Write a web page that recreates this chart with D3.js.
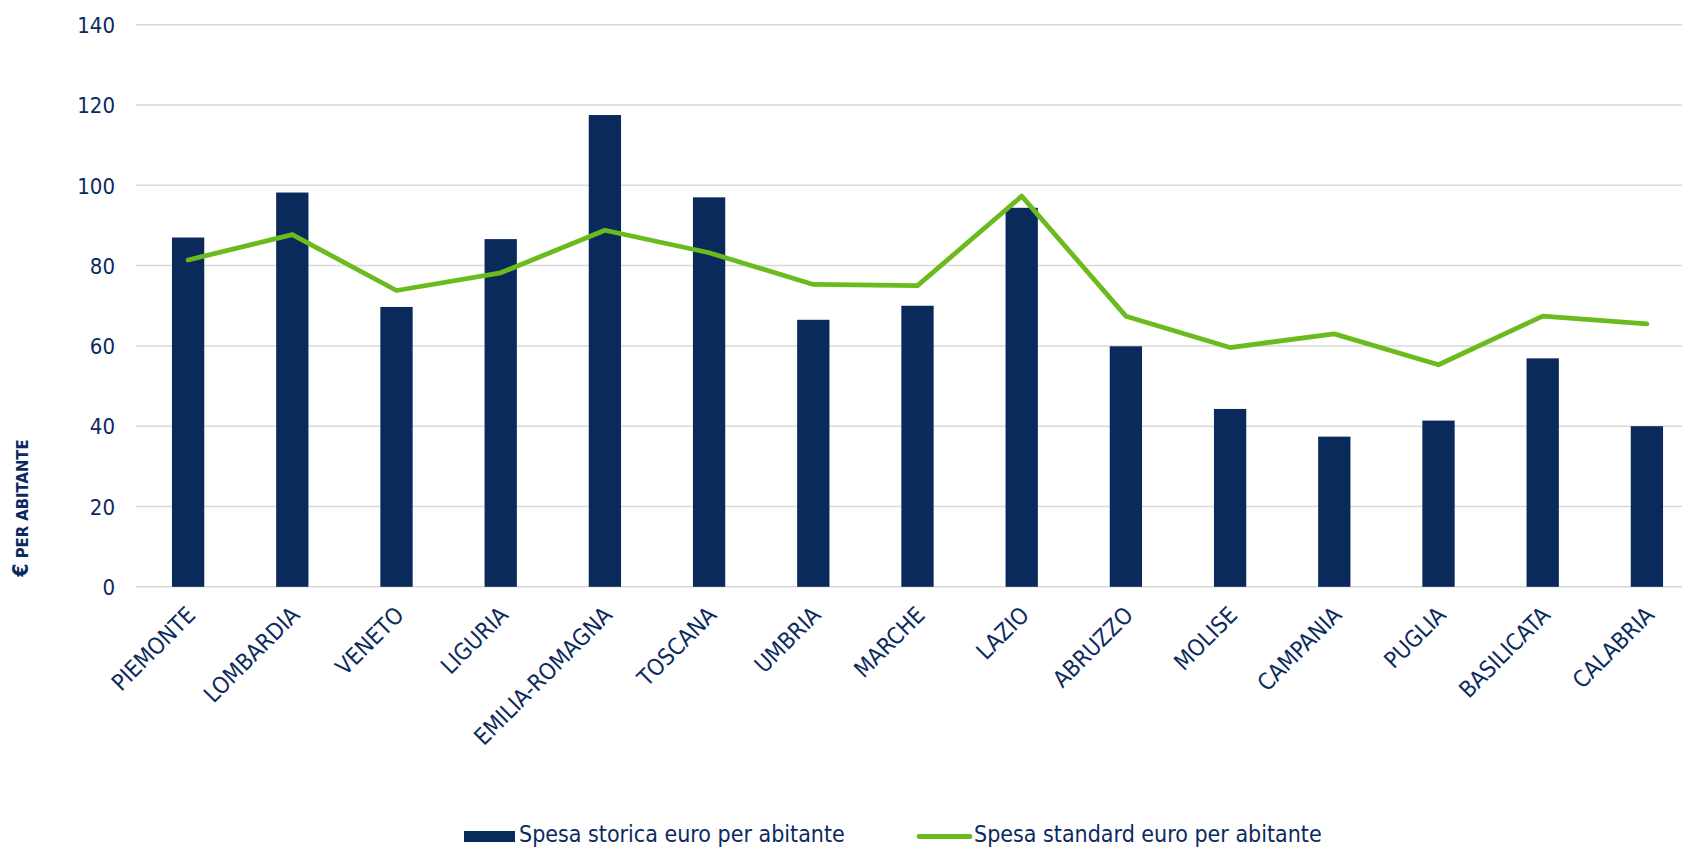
<!DOCTYPE html>
<html><head><meta charset="utf-8">
<script src="https://cdn.jsdelivr.net/npm/d3@7"></script>
<style>
body{margin:0;background:#fff;}
svg text{font-family:"DejaVu Sans Condensed","DejaVu Sans",sans-serif;font-stretch:condensed;fill:#0c2a5e;}
</style></head><body>
<svg id="chart" width="1682" height="849"></svg>
<script>
const categories = ["PIEMONTE","LOMBARDIA","VENETO","LIGURIA","EMILIA-ROMAGNA","TOSCANA","UMBRIA","MARCHE","LAZIO","ABRUZZO","MOLISE","CAMPANIA","PUGLIA","BASILICATA","CALABRIA"];
const spesaStorica = [87.0,98.2,69.7,86.6,117.5,97.0,66.5,70.0,94.4,59.9,44.3,37.4,41.4,56.9,40.0];
const spesaStandard = [81.4,87.7,73.8,78.2,88.8,83.2,75.3,75.0,97.3,67.4,59.6,63.0,55.3,67.4,65.5];
const yTicks = [0,20,40,60,80,100,120,140];
const seriesNames = ["Spesa storica euro per abitante","Spesa standard euro per abitante"];
const yTitle = ["€"," PER ABITANTE"];

(function(){
const navy = "#0a2a5c", green = "#6cbb1e";
const svg = d3.select("#chart");
const mLeft = 136, mRight = 1699, mTop = 24.7, mBottom = 586.8;

const x = d3.scaleBand().domain(categories).range([mLeft, mRight]).paddingInner(0.69).paddingOuter(0.345);
const y = d3.scaleLinear().domain([0,140]).range([mBottom, mTop]);

// gridlines
svg.append("g").selectAll("line").data(yTicks).join("line")
  .attr("x1", mLeft).attr("x2", mRight)
  .attr("y1", d => y(d)).attr("y2", d => y(d))
  .attr("stroke", "#d9d9d9").attr("stroke-width", 1.5);

// y axis labels
const yAxis = d3.axisLeft(y).tickValues(yTicks).tickSize(0).tickPadding(0);
const gy = svg.append("g").attr("transform", `translate(${mLeft-21},0)`).call(yAxis);
gy.select(".domain").remove();
gy.selectAll("text").attr("font-size", 22).style("fill", "#0c2a5e").attr("dy", "0.35em")
  .style("font-family", '"DejaVu Sans Condensed","DejaVu Sans",sans-serif');

// bars
svg.append("g").selectAll("rect").data(categories).join("rect")
  .attr("x", d => x(d)).attr("width", x.bandwidth())
  .attr("y", (d,i) => y(spesaStorica[i]))
  .attr("height", (d,i) => y(0) - y(spesaStorica[i]))
  .attr("fill", navy);

// line
const line = d3.line().x((d,i) => x(categories[i]) + x.bandwidth()/2).y(d => y(d));
svg.append("path").datum(spesaStandard).attr("d", line)
  .attr("fill", "none").attr("stroke", green).attr("stroke-width", 4.8)
  .attr("stroke-linecap", "round").attr("stroke-linejoin", "round");

// x axis labels
const xAxis = d3.axisBottom(x).tickSize(0).tickPadding(0);
const gx = svg.append("g").attr("transform", `translate(0,${mBottom})`).call(xAxis);
gx.select(".domain").remove();
gx.selectAll("text")
  .attr("font-size", 23).style("fill", "#0c2a5e")
  .style("font-family", '"DejaVu Sans Condensed","DejaVu Sans",sans-serif')
  .attr("text-anchor", "end")
  .attr("transform", "translate(3,24) rotate(-45)")
  .attr("y", 0).attr("dy", "0.35em");

// y title
const yt = svg.append("text").attr("transform", "translate(28,508) rotate(-90)")
  .attr("text-anchor", "middle").attr("font-weight", "bold");
yt.append("tspan").attr("font-size", 21).text(yTitle[0]);
yt.append("tspan").attr("font-size", 16.5).text(yTitle[1]);

// legend
const lg = svg.append("g");
lg.append("rect").attr("x", 464).attr("y", 831).attr("width", 51).attr("height", 11).attr("fill", navy);
lg.append("text").attr("x", 519).attr("y", 834).attr("dy", "0.35em").attr("font-size", 23).text(seriesNames[0]);
lg.append("line").attr("x1", 919).attr("x2", 970).attr("y1", 836.5).attr("y2", 836.5)
  .attr("stroke", green).attr("stroke-width", 4.8).attr("stroke-linecap", "round");
lg.append("text").attr("x", 974).attr("y", 834).attr("dy", "0.35em").attr("font-size", 23).text(seriesNames[1]);
})();
</script></body></html>
